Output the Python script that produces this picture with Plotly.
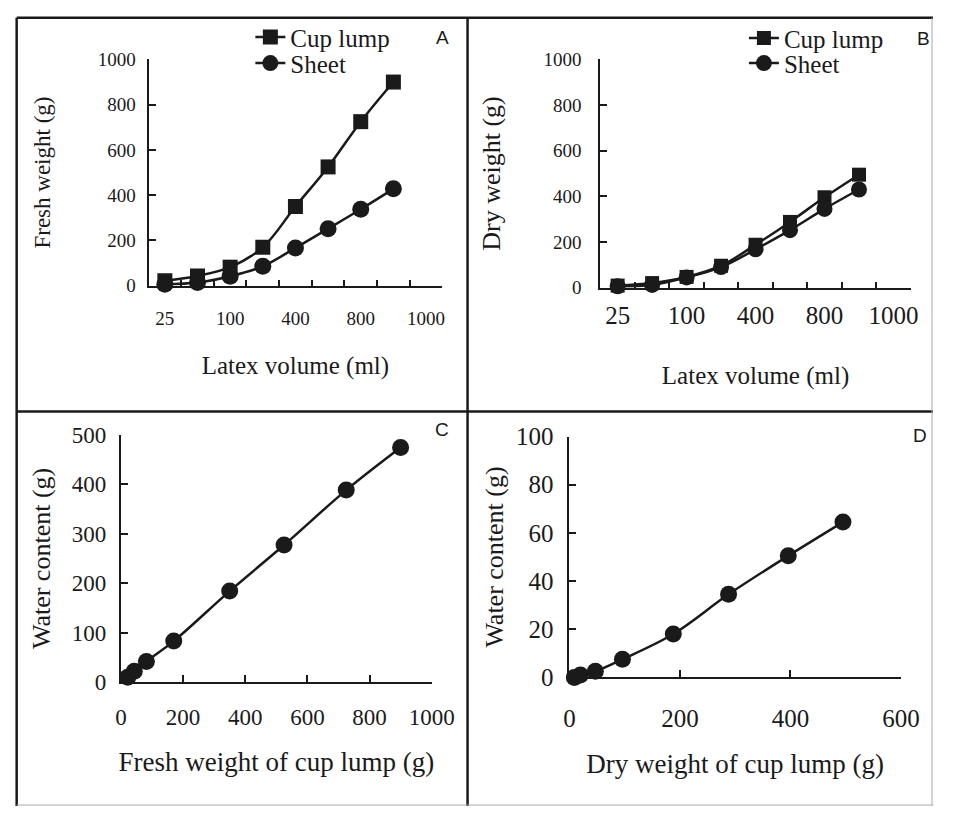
import plotly.graph_objects as go

W, H = 956, 820

# ---------------- data ----------------
volume_cats = ["25", "50", "100", "200", "400", "600", "800", "900", "1000"]
volume_ticktext = ["25", "", "100", "", "400", "", "800", "", "1000"]
data_volumes = volume_cats[:8]

fresh_cup = [22, 43, 82, 170, 350, 525, 725, 900]
fresh_sheet = [6, 14, 42, 86, 167, 252, 338, 428]
dry_cup = [9, 20, 47, 96, 188, 288, 396, 495]
dry_sheet = [6, 12, 45, 90, 168, 252, 345, 430]
water_vs_fresh = [10, 22, 42, 83, 184, 277, 388, 474]
water_vs_dry = [0, 1, 2.5, 7.5, 18, 34.5, 50.5, 64.5]

INK = "#1a1a1a"
SERIF = "Liberation Serif, Times New Roman, serif"
SANS = "Liberation Sans, Arial, sans-serif"


def px_x(a, b):
    return [a / W, b / W]


def px_y(top, bottom):
    return [1 - bottom / H, 1 - top / H]


fig = go.Figure()

line_style = dict(color=INK, width=2.5, shape="spline", smoothing=1)

# Panel A
fig.add_trace(go.Scatter(x=data_volumes, y=fresh_cup, name="Cup lump", mode="lines+markers",
                         line=line_style, marker=dict(symbol="square", size=15, color=INK),
                         xaxis="x", yaxis="y", legend="legend", cliponaxis=False))
fig.add_trace(go.Scatter(x=data_volumes, y=fresh_sheet, name="Sheet", mode="lines+markers",
                         line=line_style, marker=dict(symbol="circle", size=17, color=INK),
                         xaxis="x", yaxis="y", legend="legend2", cliponaxis=False))
# Panel B
fig.add_trace(go.Scatter(x=data_volumes, y=dry_cup, name="Cup lump", mode="lines+markers",
                         line=line_style, marker=dict(symbol="square", size=14, color=INK),
                         xaxis="x2", yaxis="y2", legend="legend3", cliponaxis=False))
fig.add_trace(go.Scatter(x=data_volumes, y=dry_sheet, name="Sheet", mode="lines+markers",
                         line=line_style, marker=dict(symbol="circle", size=16, color=INK),
                         xaxis="x2", yaxis="y2", legend="legend4", cliponaxis=False))
# Panel C
fig.add_trace(go.Scatter(x=fresh_cup, y=water_vs_fresh, mode="lines+markers", showlegend=False,
                         line=line_style, marker=dict(symbol="circle", size=17, color=INK),
                         xaxis="x3", yaxis="y3", cliponaxis=False))
# Panel D
fig.add_trace(go.Scatter(x=dry_cup, y=water_vs_dry, mode="lines+markers", showlegend=False,
                         line=line_style, marker=dict(symbol="circle", size=17, color=INK),
                         xaxis="x4", yaxis="y4", cliponaxis=False))

base_axis = dict(showline=True, linecolor=INK, linewidth=2, ticks="inside", tickcolor=INK,
                 tickwidth=2, showgrid=False, zeroline=False, layer="below traces",
                 color=INK, tickangle=0)


def cat_xaxis(domain, anchor, tsize, standoff, title, title_size, title_standoff):
    return dict(base_axis, domain=domain, anchor=anchor, type="category",
                categoryorder="array", categoryarray=volume_cats, range=[-0.5, 8.5],
                tickmode="array", tickvals=volume_cats, ticktext=volume_ticktext,
                tickson="boundaries", ticklen=6,
                tickfont=dict(family=SERIF, size=tsize, color=INK),
                ticklabelstandoff=standoff,
                title=dict(text=title, font=dict(family=SERIF, size=title_size, color=INK),
                           standoff=title_standoff))


def lin_axis(domain, anchor, rng, dtick, tlen, tsize, standoff, title, title_size, title_standoff):
    return dict(base_axis, domain=domain, anchor=anchor, range=rng, dtick=dtick, tick0=0,
                ticklen=tlen, tickfont=dict(family=SERIF, size=tsize, color=INK),
                ticklabelstandoff=standoff,
                title=dict(text=title, font=dict(family=SERIF, size=title_size, color=INK),
                           standoff=title_standoff))


fig.update_layout(
    width=W, height=H, margin=dict(l=0, r=0, t=0, b=0),
    paper_bgcolor="white", plot_bgcolor="rgba(0,0,0,0)",
    font=dict(family=SERIF, color=INK),
    xaxis=cat_xaxis(px_x(147, 450), "y", 19, 14, "Latex volume (ml)", 25, 29),
    yaxis=lin_axis(px_y(48, 282), "x", [0, 1000], 200, 7, 19, 7, "Fresh weight (g)", 23, 41),
    xaxis2=cat_xaxis(px_x(613, 933), "y2", 25, 4, "Latex volume (ml)", 25, 39),
    yaxis2=lin_axis(px_y(48, 284), "x2", [0, 1000], 200, 7, 19, 13, "Dry weight (g)", 26, 36),
    xaxis3=lin_axis(px_x(118.5, 439), "y3", [0, 1000], 200, 7, 23, 13,
                    "Fresh weight of cup lump (g)", 27, 23),
    yaxis3=lin_axis(px_y(436, 692), "x3", [0, 500], 100, 7, 23, 8, "Water content (g)", 26, 14),
    xaxis4=lin_axis(px_x(581, 923), "y4", [0, 600], 200, 7, 25, 18,
                    "Dry weight of cup lump (g)", 27, 23),
    yaxis4=lin_axis(px_y(438, 687), "x4", [0, 100], 20, 7, 25, 9, "Water content (g)", 26, 5),
    showlegend=True,
)

legend_common = dict(bgcolor="rgba(0,0,0,0)", borderwidth=0, xanchor="left", yanchor="middle",
                     font=dict(family=SERIF, size=25, color=INK), itemsizing="trace")
fig.update_layout(
    legend=dict(legend_common, x=252 / W, y=1 - 25 / H),
    legend2=dict(legend_common, x=252 / W, y=1 - 52 / H),
    legend3=dict(legend_common, x=761 / W, y=1 - 26 / H),
    legend4=dict(legend_common, x=761 / W, y=1 - 52 / H),
)

# panel letters
for letter, (lx, ly) in {"A": (450, 25), "B": (946, 26), "C": (450, 431), "D": (943, 437)}.items():
    fig.add_annotation(text=letter, x=lx / W, y=1 - ly / H, xref="paper", yref="paper",
                       showarrow=False, xanchor="center", yanchor="middle",
                       font=dict(family=SANS, size=19, color=INK))

# frame lines around the four panels
frame = [
    (11, 5, 956, 5, INK, 2.5),
    (11, 5, 11, 820, INK, 2.5),
    (476, 5, 476, 820, INK, 2.5),
    (11, 412, 956, 412, INK, 2.5),
    (955, 5, 955, 820, "#aaaaaa", 1),
    (11, 819, 956, 819, "#aaaaaa", 1),
]
for x0, y0, x1, y1, c, w in frame:
    fig.add_shape(type="line", xref="paper", yref="paper",
                  x0=x0 / W, x1=x1 / W, y0=1 - y0 / H, y1=1 - y1 / H,
                  line=dict(color=c, width=w))

fig.write_html("out.html", config={"displayModeBar": False},
               post_script="document.body.style.margin='0';document.body.style.overflow='hidden';")
